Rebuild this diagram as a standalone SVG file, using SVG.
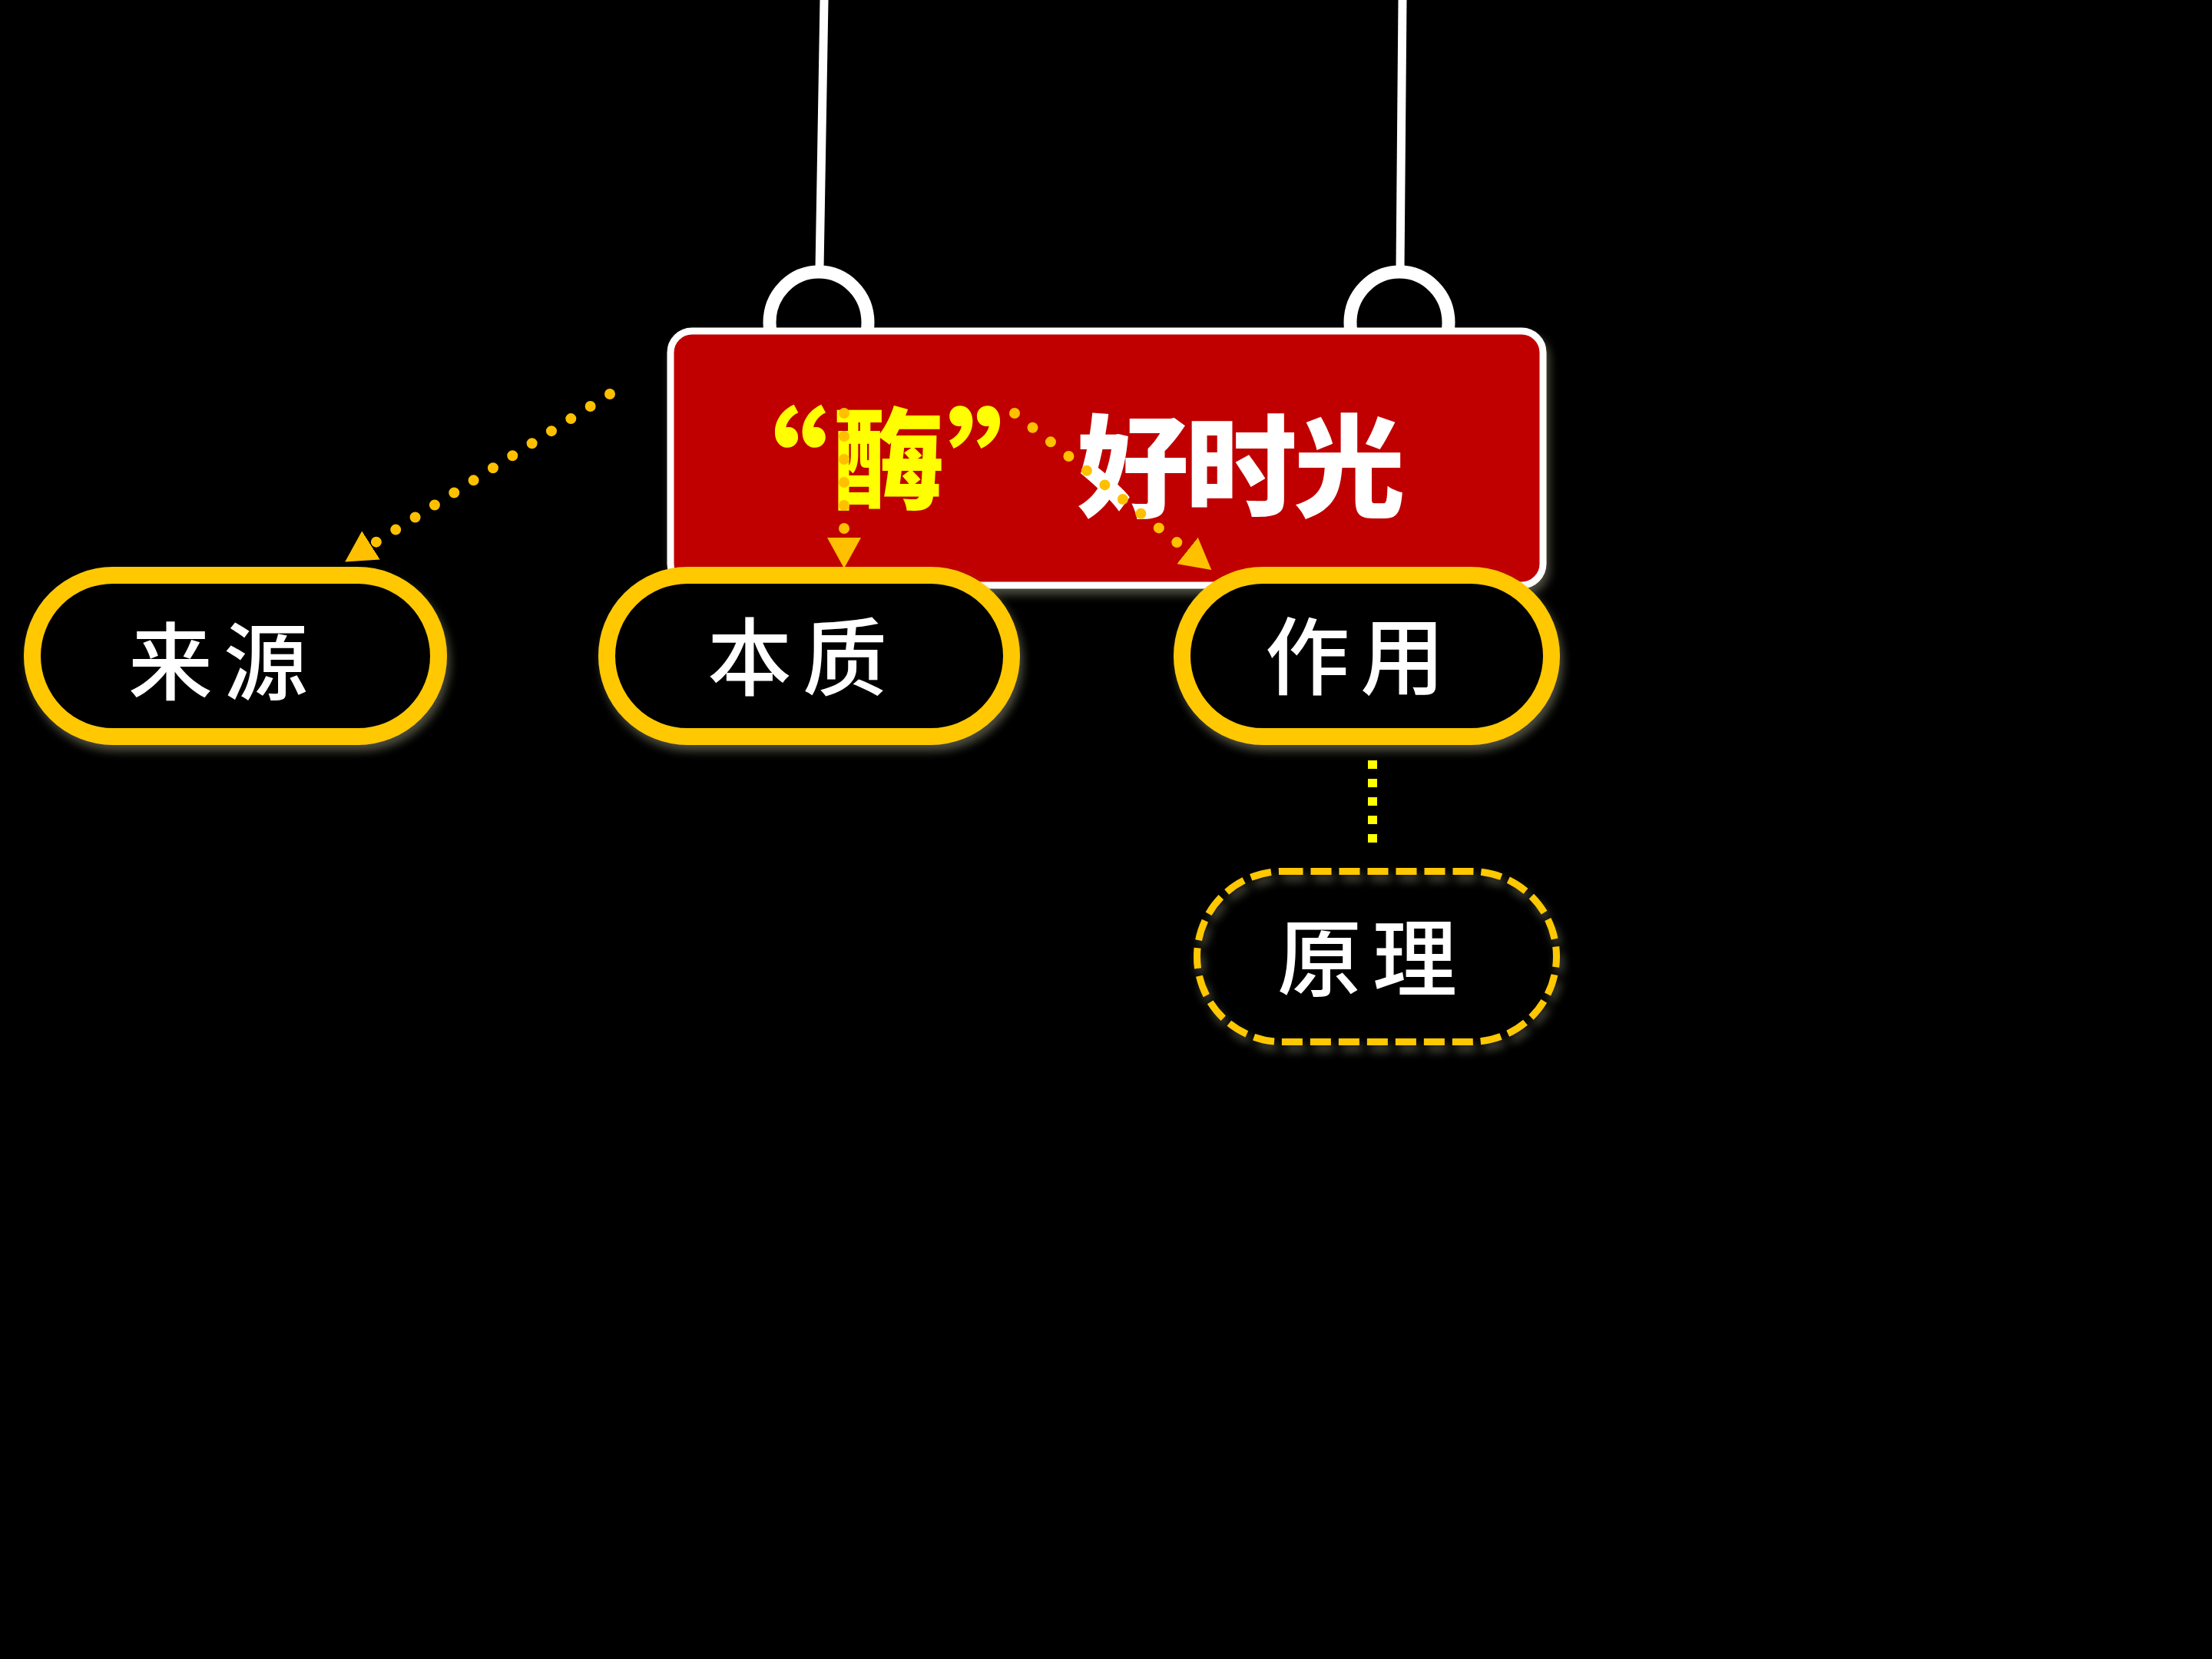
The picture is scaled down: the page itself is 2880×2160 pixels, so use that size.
<svg xmlns="http://www.w3.org/2000/svg" width="2880" height="2160" viewBox="0 0 2880 2160">
<defs>
<style>
.label{font-family:"Noto Sans CJK SC","Noto Sans CJK JP",sans-serif;font-size:110px;font-weight:500;fill:#FFFFFF;text-anchor:middle;letter-spacing:14px}
.title{font-family:"Noto Sans CJK SC","Noto Sans CJK JP",sans-serif;font-weight:900;text-anchor:middle}
.pill{fill:#000000;stroke:#FFC800;stroke-width:22}
.dots{fill:none;stroke:#FFC000;stroke-width:14;stroke-linecap:round;stroke-dasharray:0 30}
.hang{fill:none;stroke:#FFFFFF}
</style>
<filter id="shadow" x="-10%" y="-20%" width="120%" height="150%">
<feDropShadow dx="4" dy="8" stdDeviation="6" flood-color="#8a8a70" flood-opacity="0.55"/>
</filter>
<marker id="arrow" markerUnits="userSpaceOnUse" markerWidth="40" markerHeight="44" viewBox="0 0 40 44" refX="0" refY="22" orient="auto">
<path d="M0,0 L40,22 L0,44 Z" fill="#FFC000"/>
</marker>
</defs>
<rect width="2880" height="2160" fill="#000000"/>

<g id="hanger">
<line class="hang" x1="1073" y1="0" x2="1067" y2="350" stroke-width="11"/>
<line class="hang" x1="1826" y1="0" x2="1823" y2="350" stroke-width="11"/>
<ellipse class="hang" cx="1066" cy="420" rx="64" ry="66" stroke-width="17"/>
<ellipse class="hang" cx="1822" cy="420" rx="64" ry="66" stroke-width="17"/>
</g>

<g id="sign">
<rect x="873" y="431" width="1136" height="331" rx="28" fill="#C00000" stroke="#FFFFFF" stroke-width="9" filter="url(#shadow)"/>
<text class="title" font-size="145" fill="#FFFF00"><tspan x="993" y="675" font-size="170">“</tspan><tspan x="1157" y="653">酶</tspan><tspan x="1318" y="675" font-size="170">”</tspan></text>
<text class="title" x="1614" y="662" font-size="145" fill="#FFFFFF" letter-spacing="-4">好时光</text>
</g>

<g id="node-laiyuan">
<rect class="pill" x="42" y="749" width="529" height="210" rx="105" filter="url(#shadow)"/>
<text class="label" x="291" y="903">来源</text>
</g>

<g id="node-benzhi">
<rect class="pill" x="790" y="749" width="527" height="210" rx="105" filter="url(#shadow)"/>
<text class="label" x="1045" y="897">本质</text>
</g>

<g id="node-zuoyong">
<rect class="pill" x="1539" y="749" width="481" height="210" rx="105" filter="url(#shadow)"/>
<text class="label" x="1771" y="896">作用</text>
</g>

<g id="node-yuanli">
<rect x="1558.5" y="1134.5" width="468" height="222" rx="111" fill="none" stroke="#FFC800" stroke-width="9" stroke-dasharray="27 10" filter="url(#shadow)"/>
<text class="label" x="1787" y="1289" font-size="106">原理</text>
</g>

<g id="connectors">
<path class="dots" d="M794,513 L483,710" marker-end="url(#arrow)"/>
<path class="dots" d="M1099,538 L1099,700" marker-end="url(#arrow)"/>
<path class="dots" d="M1321,538 L1546,717" marker-end="url(#arrow)"/>
<path d="M1787,990 L1787,1097" fill="none" stroke="#FFFF00" stroke-width="12" stroke-dasharray="11 13"/>
</g>
</svg>
